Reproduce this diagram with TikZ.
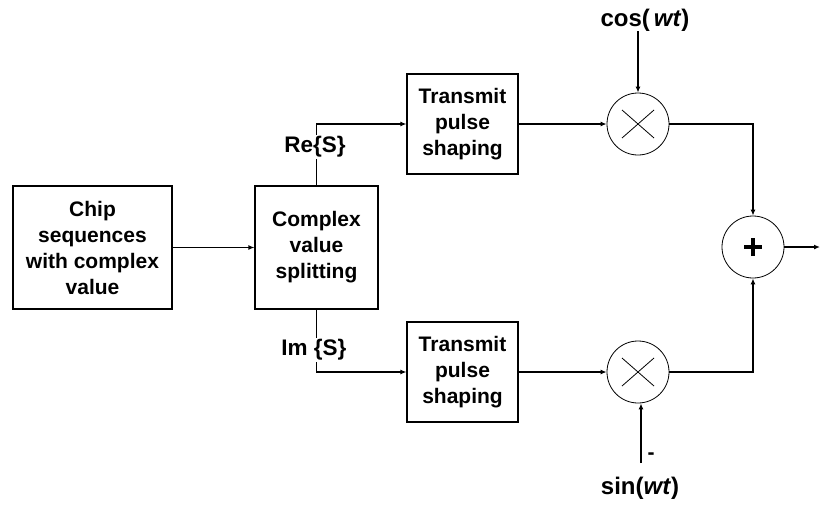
\documentclass[tikz,border=0pt]{standalone}
\usepackage{fontspec}
\newfontfamily\lsfont{Liberation Sans}
\usetikzlibrary{arrows.meta}
\begin{document}
\begin{tikzpicture}[x=1pt,y=-1pt,
  txt/.style={font=\lsfont\bfseries\fontsize{21}{26}\selectfont, align=center},
  big/.style={font=\lsfont\bfseries\fontsize{24}{28}\selectfont, inner sep=0pt},
  box/.style={txt, draw, line width=1.1pt, inner sep=0pt},
  circ/.style={draw, circle, line width=0.8pt, minimum size=62pt, inner sep=0pt},
  lab/.style={font=\lsfont\bfseries\fontsize{22.5}{26}\selectfont, fill=white, inner sep=1.5pt},
  conn/.style={line width=1.2pt},
  arr/.style={conn, -{Latex[length=6pt,width=5pt]}}]
\useasboundingbox (0,0) rectangle (820,504);
\node[box, minimum width=159pt, minimum height=123pt] (chip) at (92.5,247.5) {Chip\\sequences\\with complex\\value};
\node[box, minimum width=123pt, minimum height=123pt] (split) at (316.5,247.5) {Complex\\value\\splitting};
\node[box, minimum width=111pt, minimum height=100pt] (tp1) at (462.5,124) {Transmit\\pulse\\shaping};
\node[box, minimum width=111pt, minimum height=100pt] (tp2) at (462.5,372) {Transmit\\pulse\\shaping};
\node[circ] (m1) at (638,124) {};
\node[circ] (m2) at (638,372) {};
\node[circ] (sum) at (753,247) {};
\coordinate (out) at (820,247);
\draw[line width=0.8pt] ([shift={(-16,-14)}]m1.center) -- ([shift={(16,14)}]m1.center)
  ([shift={(16,-14)}]m1.center) -- ([shift={(-16,14)}]m1.center);
\draw[line width=0.8pt] ([shift={(-16,-14)}]m2.center) -- ([shift={(16,14)}]m2.center)
  ([shift={(16,-14)}]m2.center) -- ([shift={(-16,14)}]m2.center);
\draw[line width=4pt] ([xshift=-9]sum.center) -- ([xshift=9]sum.center)
  ([yshift=-9]sum.center) -- ([yshift=9]sum.center);
\draw[arr] (chip) -- (split);
\draw[arr] (split.north) |- (tp1.west);
\draw[arr] (split.south) |- (tp2.west);
\node[lab] (re) at (315,147) {Re\{S\}};
\node[lab] (im) at (314,350) {Im \{S\}};
\node[big] (cos) at (645,20) {cos(\,\textit{wt})};
\node[big] (sin) at (640,488) {sin(\textit{wt})};
\node[txt, inner sep=0pt] (minus) at (651,456) {-};
\draw[arr] (tp1) -- (m1);
\draw[arr] (tp2) -- (m2);
\draw[arr] (m1.north |- cos.south) -- (m1.north);
\coordinate (sinstart) at (641,463);
\draw[arr] (sinstart) -- (sinstart |- m2.south);
\draw[arr] (m1) -| (sum);
\draw[arr] (m2) -| (sum);
\draw[arr] (sum) -- (out);
\end{tikzpicture}
\end{document}
